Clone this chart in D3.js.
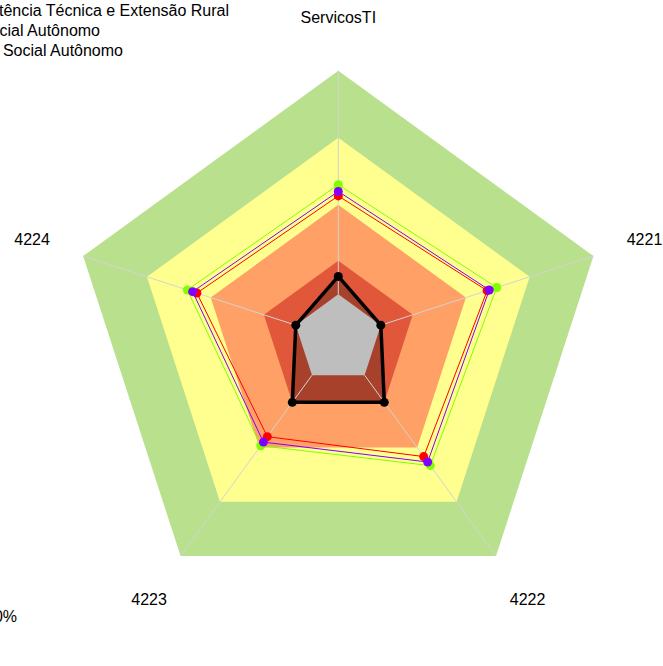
<!DOCTYPE html>
<html>
<head>
<meta charset="utf-8">
<script src="https://cdn.jsdelivr.net/npm/d3@7"></script>
<style>
  body { margin: 0; background: #fff; }
  text { font-family: "Liberation Sans", Arial, sans-serif; }
</style>
</head>
<body>
<div id="radar"></div>
<script>
// axes, clockwise from the top
var axes = ["ServicosTI", "4221", "4222", "4223", "4224"];

// series values (%)
var serieBlack  = [8, 0, 15, 15, 0];
var serieRed    = [44, 50, 45, 34, 46.5];
var seriePurple = [46, 51, 48, 37, 48.5];
var serieGreen  = [49, 54.5, 50, 39, 51];

// background bands (upper limit of each band, %)
var bandLimits = [100, 70, 40, 15];
var bandColors = ["#B9E08D", "#FFFF90", "#FFA066", "#E0573A"];

var legendLabels = ["Assistência Técnica e Extensão Rural",
                    "Serviço Social Autônomo",
                    "Outro Serviço Social Autônomo"];

var width = 663;
var height = 666;
var cx = 338.3;
var cy = 339;
var R = 268.3;

var svg = d3.select("#radar")
    .append("svg")
    .attr("width", width)
    .attr("height", height);

// radial scale with an empty hole in the middle (value 0 sits at R/6)
var r = d3.scaleLinear().domain([0, 100]).range([R / 6, R]);
var angle = d3.scalePoint().domain(axes).range([0, 2 * Math.PI * 4 / 5]);

function pt(axis, v) {
  var a = angle(axis);
  return [cx + r(v) * Math.sin(a), cy - r(v) * Math.cos(a)];
}

var line = d3.line().curve(d3.curveLinearClosed);

function ring(v) {
  return line(axes.map(function(a) { return pt(a, v); }));
}

// bands
svg.append("g").selectAll("path")
    .data(bandLimits)
    .join("path")
    .attr("d", function(d) { return ring(d); })
    .attr("fill", function(d, i) { return bandColors[i]; });

// black series fill (under the grey hole)
svg.append("path")
    .attr("d", line(axes.map(function(a, i) { return pt(a, serieBlack[i]); })))
    .attr("fill", "rgba(0,0,0,0.25)");

// spokes
svg.append("g").selectAll("line")
    .data(axes)
    .join("line")
    .attr("x1", function(d) { return pt(d, 0)[0]; })
    .attr("y1", function(d) { return pt(d, 0)[1]; })
    .attr("x2", function(d) { return pt(d, 100)[0]; })
    .attr("y2", function(d) { return pt(d, 100)[1]; })
    .attr("stroke", "#D3D3D3")
    .attr("stroke-width", 1);

// grey centre
svg.append("path")
    .attr("d", ring(0))
    .attr("fill", "#BEBEBE");

var series = [
  {values: serieGreen,  color: "#80FF00", lw: 1,   pr: 4.5},
  {values: serieRed,    color: "#FF0000", lw: 1,   pr: 4.5},
  {values: seriePurple, color: "#8000FF", lw: 1,   pr: 4.5},
  {values: serieBlack,  color: "#000000", lw: 3.5, pr: 4.5}
];

series.forEach(function(s) {
  var pts = axes.map(function(a, i) { return pt(a, s.values[i]); });
  svg.append("path")
      .attr("d", line(pts))
      .attr("fill", "none")
      .attr("stroke", s.color)
      .attr("stroke-width", s.lw)
      .attr("stroke-linejoin", "round");
  svg.append("g").selectAll("circle")
      .data(pts)
      .join("circle")
      .attr("cx", function(d) { return d[0]; })
      .attr("cy", function(d) { return d[1]; })
      .attr("r", s.pr)
      .attr("fill", s.color);
});

// axis labels at 1.2 R
svg.append("g").selectAll("text")
    .data(axes)
    .join("text")
    .attr("x", function(d) { return cx + 1.2 * R * Math.sin(angle(d)); })
    .attr("y", function(d) { return cy - 1.2 * R * Math.cos(angle(d)); })
    .attr("text-anchor", "middle")
    .attr("dominant-baseline", "central")
    .attr("font-size", 16)
    .text(function(d) { return d; });

// legend (runs off the left edge, as in the original)
var legendEnds = [229, 100, 123];
svg.append("g").selectAll("text")
    .data(legendLabels)
    .join("text")
    .attr("x", function(d, i) { return legendEnds[i]; })
    .attr("y", function(d, i) { return 10 + i * 20; })
    .attr("text-anchor", "end")
    .attr("dominant-baseline", "central")
    .attr("font-size", 16)
    .text(function(d) { return d; });

svg.append("text")
    .attr("x", 17)
    .attr("y", 616)
    .attr("text-anchor", "end")
    .attr("dominant-baseline", "central")
    .attr("font-size", 16)
    .text("100%");
</script>
</body>
</html>
